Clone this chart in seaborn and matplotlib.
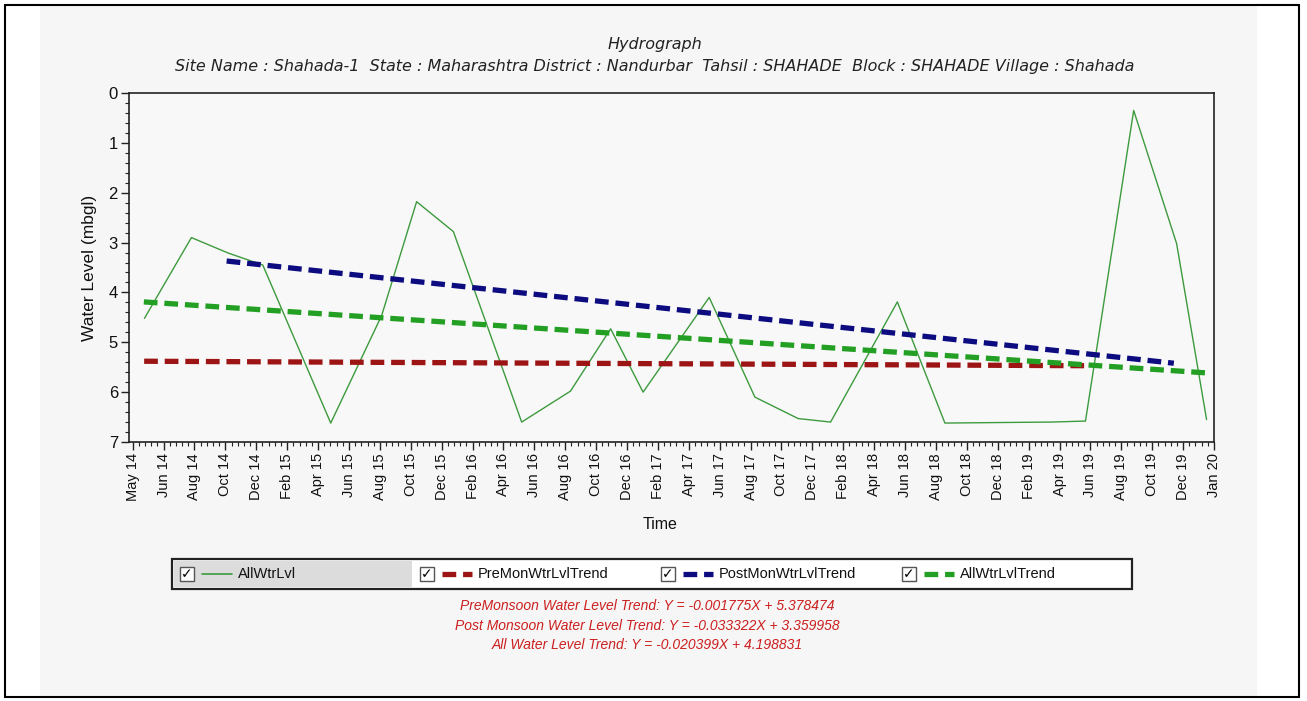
import matplotlib
matplotlib.use("Agg")
import matplotlib.pyplot as plt
import seaborn as sns
import pandas as pd
from matplotlib.patches import Rectangle
from matplotlib.lines import Line2D
from matplotlib.ticker import FixedLocator, MultipleLocator

# ---------------- data ----------------
tick_labels = ["May 14", "Jun 14", "Aug 14", "Oct 14", "Dec 14", "Feb 15", "Apr 15", "Jun 15",
               "Aug 15", "Oct 15", "Dec 15", "Feb 16", "Apr 16", "Jun 16", "Aug 16", "Oct 16",
               "Dec 16", "Feb 17", "Apr 17", "Jun 17", "Aug 17", "Oct 17", "Dec 17", "Feb 18",
               "Apr 18", "Jun 18", "Aug 18", "Oct 18", "Dec 18", "Feb 19", "Apr 19", "Jun 19",
               "Aug 19", "Oct 19", "Dec 19", "Jan 20"]

# time expressed in tick-index units (position along the time axis)
all_t = [0.38, 1.90, 3.09, 4.21, 6.41, 8.06, 9.19, 10.38, 12.59, 14.17, 15.47, 16.52,
         18.66, 20.14, 21.54, 22.59, 24.75, 26.29, 29.74, 30.84, 32.40, 33.79, 34.76]
all_v = [4.52, 2.90, 3.21, 3.45, 6.62, 4.46, 2.18, 2.78, 6.60, 5.98, 4.73, 6.00,
         4.10, 6.10, 6.53, 6.60, 4.19, 6.62, 6.60, 6.58, 0.35, 3.02, 6.55]

pre_t = [0.37, 30.85]
pre_v = [5.38, 5.47]
post_t = [3.04, 33.70]
post_v = [3.37, 5.42]
alltr_t = [0.36, 34.90]
alltr_v = [4.19, 5.62]

series_names = ["AllWtrLvl", "PreMonWtrLvlTrend", "PostMonWtrLvlTrend", "AllWtrLvlTrend"]
equations = ["PreMonsoon Water Level Trend: Y = -0.001775X + 5.378474",
             "Post Monsoon Water Level Trend: Y = -0.033322X + 3.359958",
             "All Water Level Trend: Y = -0.020399X + 4.198831"]

# ---------------- style ----------------
sns.set_style("ticks")
plt.rcParams['font.family'] = ['Liberation Sans', 'DejaVu Sans']

W, H = 1307, 701
fig = plt.figure(figsize=(W / 100, H / 100), dpi=100)
fig.patch.set_facecolor("white")

def fx(px):
    return px / W

def fy(py):
    return 1 - py / H

# background panel and outer frame
fig.add_artist(Rectangle((fx(40), fy(697)), fx(1257) - fx(40), fy(5) - fy(697),
                         transform=fig.transFigure, facecolor="#f6f6f6", edgecolor="none", zorder=0))
fig.add_artist(Rectangle((fx(5), fy(697)), fx(1299) - fx(5), fy(5) - fy(697),
                         transform=fig.transFigure, facecolor="none", edgecolor="black", lw=1.5, zorder=1))

left, right, top, bottom = 129, 1214, 93, 442
ax = fig.add_axes([fx(left), fy(bottom), fx(right) - fx(left), fy(top) - fy(bottom)])
ax.set_facecolor("#f8f8f8")

c_all = "#3d9a3d"
c_pre = "#9c1414"
c_post = "#0c0c80"
c_alltr = "#23a023"
dash = (0, (2.6, 1.3))

df_all = pd.DataFrame({"t": all_t, "v": all_v})
sns.lineplot(data=df_all, x="t", y="v", ax=ax, color=c_all, lw=1.0, estimator=None, sort=False)
sns.lineplot(x=pre_t, y=pre_v, ax=ax, color=c_pre, lw=3.8, linestyle=dash, estimator=None,
             dash_capstyle="butt")
sns.lineplot(x=post_t, y=post_v, ax=ax, color=c_post, lw=3.8, linestyle=dash, estimator=None,
             dash_capstyle="butt")
sns.lineplot(x=alltr_t, y=alltr_v, ax=ax, color=c_alltr, lw=3.8, linestyle=dash, estimator=None,
             dash_capstyle="butt")

ax.set_xlim(-0.12, 35.0)
ax.set_ylim(7, 0)
ax.xaxis.set_major_locator(FixedLocator(list(range(len(tick_labels)))))
ax.set_xticklabels(tick_labels, rotation=90, fontsize=10.5, color="#111111")
ax.xaxis.set_minor_locator(MultipleLocator(0.2))
ax.yaxis.set_major_locator(MultipleLocator(1))
ax.yaxis.set_minor_locator(MultipleLocator(0.2))
ax.tick_params(axis="y", labelsize=12, colors="#111111", pad=2)
ax.tick_params(axis="x", pad=2)
ax.tick_params(which="major", length=6, width=1, direction="out", color="#222222")
ax.tick_params(which="minor", length=3, width=0.8, direction="out", color="#222222")
for s in ax.spines.values():
    s.set_linewidth(1.2)
    s.set_color("#222222")
ax.set_xlabel("Time", fontsize=11.5, labelpad=4, color="#111111")
ax.set_ylabel("Water Level (mbgl)", fontsize=12.5, labelpad=8, color="#111111")
ax.xaxis.set_label_coords((660 - left) / (right - left), -0.215)

# titles
fig.text(fx(655), fy(45), "Hydrograph", ha="center", va="center", fontsize=11.5,
         style="italic", color="#222222", family=["DejaVu Sans"])
fig.text(fx(655), fy(67),
         "Site Name : Shahada-1  State : Maharashtra District : Nandurbar  Tahsil : SHAHADE  Block : SHAHADE Village : Shahada",
         ha="center", va="center", fontsize=11.5, style="italic", color="#222222",
         family=["DejaVu Sans"])

# legend box (checkbox style)
lx0, lx1, ly0, ly1 = 172, 1132, 559, 589
fig.add_artist(Rectangle((fx(lx0), fy(ly1)), fx(lx1) - fx(lx0), fy(ly0) - fy(ly1),
                         transform=fig.transFigure, facecolor="white", edgecolor="#222222",
                         lw=1.6, zorder=2))
fig.add_artist(Rectangle((fx(lx0 + 2), fy(ly1 - 2)), fx(412) - fx(lx0 + 2), fy(ly0 + 2) - fy(ly1 - 2),
                         transform=fig.transFigure, facecolor="#dcdcdc", edgecolor="none", zorder=2))
items = [(180, c_all, "-", 1.2, series_names[0]),
         (420, c_pre, dash, 3.8, series_names[1]),
         (661, c_post, dash, 3.8, series_names[2]),
         (902, c_alltr, dash, 3.8, series_names[3])]
ymid = 574
for x0, col, ls, lw, name in items:
    fig.add_artist(Rectangle((fx(x0), fy(ymid + 7)), fx(x0 + 14) - fx(x0), fy(ymid - 7) - fy(ymid + 7),
                             transform=fig.transFigure, facecolor="white", edgecolor="#555555",
                             lw=1.0, zorder=3))
    fig.text(fx(x0 + 7), fy(ymid), "\u2713", ha="center", va="center", fontsize=10,
             fontweight="bold", color="black", family=["DejaVu Sans"], zorder=4)
    lstart = x0 + 22
    fig.add_artist(Line2D([fx(lstart), fx(lstart + 30)], [fy(ymid), fy(ymid)],
                          transform=fig.transFigure, color=col, lw=lw, linestyle=ls,
                          dash_capstyle="butt", zorder=4))
    fig.text(fx(lstart + 36), fy(ymid), name, ha="left", va="center", fontsize=10.5,
             color="#111111", zorder=4)

# equations
for i, eq in enumerate(equations):
    fig.text(fx(647), fy(606 + 19.5 * i), eq, ha="center", va="center", fontsize=10,
             style="italic", color="#cc1f1f")

fig.savefig("out.png", dpi=100)
